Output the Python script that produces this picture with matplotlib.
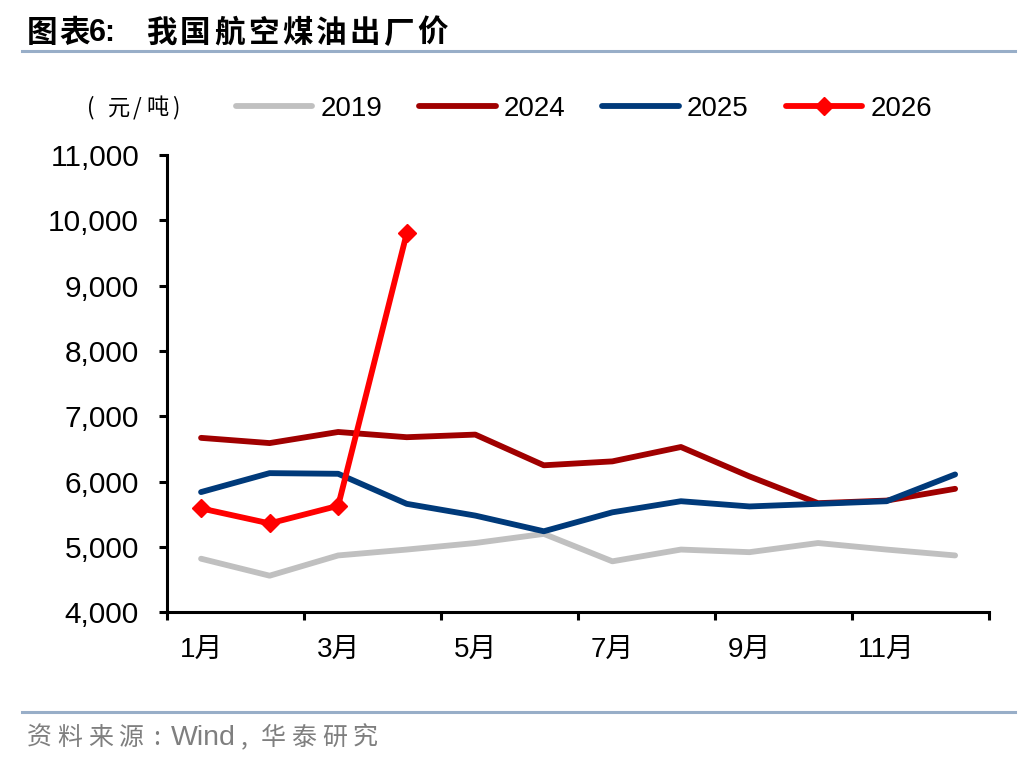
import numpy as np
import matplotlib
matplotlib.use("Agg")
import matplotlib.pyplot as plt
from matplotlib.lines import Line2D

plt.rcParams['font.family'] = ['Liberation Sans', 'Noto Sans CJK SC', 'DejaVu Sans']

W, H = 1036, 764

months = ['1月', '2月', '3月', '4月', '5月', '6月', '7月', '8月', '9月', '10月', '11月', '12月']
y2019 = [4820, 4560, 4870, 4960, 5060, 5200, 4780, 4960, 4920, 5060, 4960, 4870]
y2024 = [6670, 6590, 6760, 6680, 6720, 6250, 6310, 6530, 6080, 5670, 5710, 5890]
y2025 = [5840, 6130, 6120, 5660, 5480, 5240, 5530, 5700, 5620, 5660, 5700, 6110]
y2026 = [5590, 5360, 5630, 9800]

C2019 = '#c0c0c0'
C2024 = '#a00000'
C2025 = '#003a7a'
C2026 = '#ff0000'


def spaced(xs, y, chars, **kw):
    # put each glyph by itself, the reference uses wide letter spacing
    for x, c in zip(xs, chars):
        fig.text(x / W, 1 - y / H, c, ha='center', va='center', **kw)


fig = plt.figure(figsize=(W / 100, H / 100), dpi=100)
ax = fig.add_axes([0.161, 0.1986, 0.794, 0.5985])

x = np.arange(12) + 0.5
ax.plot(x, y2019, color=C2019, lw=4.2, solid_capstyle='round', label='2019')
ax.plot(x, y2024, color=C2024, lw=4.2, solid_capstyle='round', label='2024')
ax.plot(x, y2025, color=C2025, lw=4.2, solid_capstyle='round', label='2025')
ax.plot(x[:len(y2026)], y2026, color=C2026, lw=4.2, marker='D', markersize=9,
        solid_capstyle='round', label='2026')

ax.set_xlim(0, 12)
ax.set_ylim(4000, 11000)
ax.set_yticks(range(4000, 11001, 1000))
ax.set_yticklabels([f'{v:,}' for v in range(4000, 11001, 1000)])
ax.set_xticks(range(0, 13, 2))
ax.set_xticklabels([])
ax.set_xticks(x[::2], minor=True)
ax.set_xticklabels(months[::2], minor=True)

for s in ['top', 'right']:
    ax.spines[s].set_visible(False)
for s in ['left', 'bottom']:
    ax.spines[s].set_linewidth(2.2)
ax.tick_params(axis='y', which='major', length=6, width=2.2, labelsize=21.5, pad=14)
ax.tick_params(axis='x', which='major', length=6, width=2.2, direction='out')
ax.tick_params(axis='x', which='minor', length=0, labelsize=20, pad=18)

# legend
handles = [Line2D([], [], color=C2019, lw=4.2, solid_capstyle='round'),
           Line2D([], [], color=C2024, lw=4.2, solid_capstyle='round'),
           Line2D([], [], color=C2025, lw=4.2, solid_capstyle='round'),
           Line2D([], [], color=C2026, lw=4.2, marker='D', markersize=9, solid_capstyle='round')]
fig.legend(handles, ['2019', '2024', '2025', '2026'], loc='center left',
           bbox_to_anchor=(211 / W, 1 - 109 / H), ncol=4, frameon=False,
           fontsize=20, handlelength=2.75, handletextpad=0.3, columnspacing=1.32)
spaced([91, 119, 137, 157, 176], 108, ['(', '元', '/', '吨', ')'], fontsize=16,
       family=['Noto Sans CJK SC'])

# title and rules
spaced([42.5, 74.5], 33, ['图', '表'], fontsize=22, fontweight='bold',
       family=['Noto Sans CJK SC'])
fig.text(89 / W, 1 - 33 / H, '6:', fontsize=22, fontweight='bold', va='center',
         family=['Liberation Sans'])
spaced([161.5 + 33.9 * i for i in range(9)], 33, list('我国航空煤油出厂价'),
       fontsize=22, fontweight='bold', family=['Noto Sans CJK SC'])
fig.add_artist(Line2D([22 / W, 1015 / W], [1 - 51 / H, 1 - 51 / H],
                      color='#98aec8', lw=2.2))
fig.add_artist(Line2D([22 / W, 1015 / W], [1 - 712 / H, 1 - 712 / H],
                      color='#98aec8', lw=2.2))

# source note
grey = '#7f7f7f'
spaced([39.5, 70, 100.5, 130.5], 738, list('资料来源'), fontsize=18, color=grey,
       family=['Noto Sans CJK SC'])
spaced([156.5], 738, [':'], fontsize=18, color=grey, family=['Noto Sans CJK SC'])
fig.text(171 / W, 1 - 738 / H, 'Wind', fontsize=20.5, color=grey, va='center',
         family=['Liberation Sans'])
spaced([244], 737, [','], fontsize=18, color=grey, family=['Noto Sans CJK SC'])
spaced([273.5, 304, 334.5, 365], 738, list('华泰研究'), fontsize=18, color=grey,
       family=['Noto Sans CJK SC'])

fig.savefig('out.png', dpi=100)
